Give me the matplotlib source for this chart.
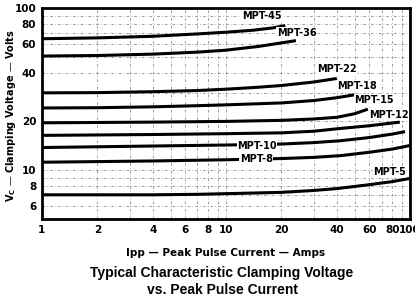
import numpy as np
import matplotlib
matplotlib.use("Agg")
import matplotlib.pyplot as plt
from matplotlib.ticker import FixedLocator, NullFormatter, FixedFormatter

# curves (I in amps, Vc in volts)
i_45 = [1, 2, 4, 7, 10, 14, 18, 21]
v_45 = [64.7, 65.5, 67, 69.3, 71, 73, 75.5, 78]
i_36 = [1, 2, 4, 7, 10, 15, 20, 24]
v_36 = [50.6, 51, 52, 53.5, 55, 58, 61, 63]
i_22 = [1, 2, 4, 7, 10, 15, 20, 30, 40]
v_22 = [30, 30.1, 30.5, 31, 31.6, 32.5, 33.3, 35, 36.8]
i_18 = [1, 2, 4, 7, 10, 20, 30, 40, 50]
v_18 = [24.2, 24.3, 24.6, 25, 25.3, 26, 26.9, 28, 29.2]
i_15 = [1, 4, 10, 20, 30, 40, 50, 59]
v_15 = [19.6, 19.8, 20, 20.3, 20.7, 21.2, 22.3, 23.8]
i_12 = [1, 4, 10, 20, 30, 42, 60, 88]
v_12 = [16.4, 16.6, 16.8, 17.0, 17.4, 18.1, 18.8, 19.8]
i_10 = [1, 4, 10, 20, 30, 42, 60, 80, 94]
v_10 = [13.8, 14.1, 14.3, 14.5, 14.8, 15.2, 15.9, 16.7, 17.3]
i_8 = [1, 4, 10, 20, 30, 42, 60, 80, 100]
v_8 = [11.2, 11.4, 11.6, 11.8, 12.0, 12.3, 12.9, 13.5, 14.2]
i_5 = [1, 4, 7, 12, 20, 30, 40, 58, 80, 100]
v_5 = [7.05, 7.05, 7.1, 7.2, 7.3, 7.5, 7.7, 8.1, 8.5, 8.9]

curves = [(i_45, v_45), (i_36, v_36), (i_22, v_22), (i_18, v_18), (i_15, v_15),
          (i_12, v_12), (i_10, v_10), (i_8, v_8), (i_5, v_5)]

labels = ["MPT-45", "MPT-36", "MPT-22", "MPT-18", "MPT-15", "MPT-12", "MPT-10", "MPT-8", "MPT-5"]
label_x = [12.2, 18.9, 31.1, 40.1, 49.7, 59.8, 11.5, 11.9, 63]
label_y = [89, 70.7, 41.9, 33.3, 27.2, 21.9, 14.2, 11.7, 9.7]

x_ticks = [1, 2, 4, 6, 8, 10, 20, 40, 60, 80, 100]
y_ticks = [6, 8, 10, 20, 40, 60, 80, 100]

narrow = ["Liberation Sans Narrow", "DejaVu Sans"]

fig = plt.figure(figsize=(4.15, 3.0), dpi=100)
ax = fig.add_axes([0.101, 0.27, 0.887, 0.703])
ax.set_xscale("log")
ax.set_yscale("log")
ax.set_xlim(1, 100)
ax.set_ylim(5, 100)

# grid at every decade step
ax.xaxis.set_major_locator(FixedLocator(x_ticks))
ax.xaxis.set_major_formatter(FixedFormatter([str(t) for t in x_ticks]))
ax.xaxis.set_minor_locator(FixedLocator([3, 5, 7, 9, 30, 50, 70, 90]))
ax.xaxis.set_minor_formatter(NullFormatter())
ax.yaxis.set_major_locator(FixedLocator(y_ticks))
ax.yaxis.set_major_formatter(FixedFormatter([str(t) for t in y_ticks]))
ax.yaxis.set_minor_locator(FixedLocator([7, 9, 30, 50, 70, 90]))
ax.yaxis.set_minor_formatter(NullFormatter())
ax.grid(True, which="both", color="#777777", lw=0.5, ls=(0, (4, 3, 1, 3)))
ax.tick_params(which="both", length=0, pad=4)
for t in ax.get_xticklabels() + ax.get_yticklabels():
    t.set_family(narrow)
    t.set_fontweight("bold")
    t.set_fontsize(7.5)

for s in ax.spines.values():
    s.set_linewidth(2)

for (ii, vv) in curves:
    ax.plot(ii, vv, color="black", lw=2.2, solid_capstyle="butt", solid_joinstyle="round")

for lab, lx, ly in zip(labels, label_x, label_y):
    ax.text(lx, ly, lab, family=narrow, fontweight="bold", fontsize=7,
            ha="left", va="center",
            bbox=dict(facecolor="white", edgecolor="none", pad=0.3))

ax.set_xlabel("Ipp — Peak Pulse Current — Amps", family=narrow, fontweight="bold",
              fontsize=7.5, labelpad=10)
ax.set_ylabel("V$_\\mathregular{C}$ — Clamping Voltage — Volts", family=narrow,
              fontweight="bold", fontsize=7)
ax.yaxis.set_label_coords(-0.065, 0.49)

fig.text(0.535, 0.09, "Typical Characteristic Clamping Voltage", ha="center", va="center",
         family=["Liberation Sans", "DejaVu Sans"], fontweight="bold", fontsize=10)
fig.text(0.535, 0.033, "vs. Peak Pulse Current", ha="center", va="center",
         family=["Liberation Sans", "DejaVu Sans"], fontweight="bold", fontsize=10)

fig.savefig("out.png", dpi=100)
